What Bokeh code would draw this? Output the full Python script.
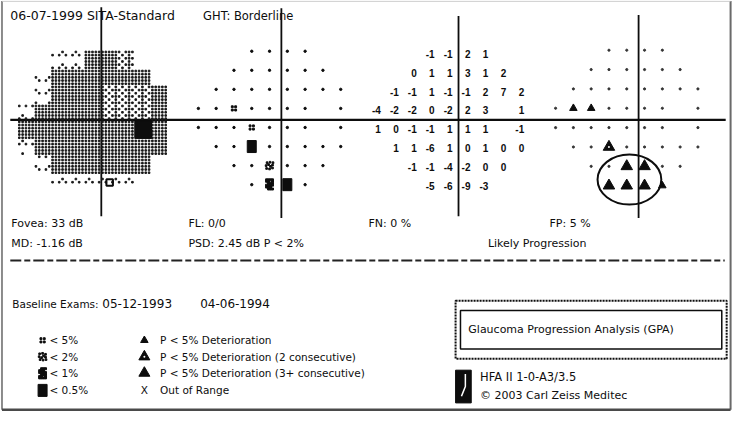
import math
from bokeh.plotting import figure
from bokeh.models import Range1d
from bokeh.core.properties import value
from bokeh.embed import file_html
from bokeh.resources import INLINE

# ------------------------------------------------------------------ data
# 24-2 test grid (degrees), one list of x positions per row
ROW_Y = [21, 15, 9, 3, -3, -9, -15, -21]
ROW_X = {
    21: [-9, -3, 3, 9],
    15: [-15, -9, -3, 3, 9, 15],
    9: [-21, -15, -9, -3, 3, 9, 15, 21],
    3: [-27, -21, -15, -9, -3, 3, 9, 21],
    -3: [-27, -21, -15, -9, -3, 3, 9, 21],
    -9: [-21, -15, -9, -3, 3, 9, 15, 21],
    -15: [-15, -9, -3, 3, 9, 15],
    -21: [-9, -3, 3, 9],
}
# deviation from baseline (dB)
DEVIATION = {
    21: [-1, -1, 2, 1],
    15: [0, 1, 1, 3, 1, 2],
    9: [-1, -1, 1, -1, -1, 2, 7, 2],
    3: [-4, -2, -2, 0, -2, 2, 3, 1],
    -3: [1, 0, -1, -1, 1, 1, 1, -1],
    -9: [1, 1, -6, 1, 0, 1, 0, 0],
    -15: [-1, -1, -4, -2, 0, 0],
    -21: [-5, -6, -9, -3],
}
# pattern deviation probability: 0 normal, 1 <5%, 2 <2%, 3 <1%, 4 <0.5%
PD_PROB = {
    21: [0, 0, 0, 0],
    15: [0, 0, 0, 0, 0, 0],
    9: [0, 0, 0, 0, 0, 0, 0, 0],
    3: [0, 0, 1, 0, 0, 0, 0, 0],
    -3: [0, 0, 0, 1, 0, 0, 0, 0],
    -9: [0, 0, 4, 0, 0, 0, 0, 0],
    -15: [0, 0, 2, 0, 0, 0],
    -21: [0, 3, 4, 0],
}
# progression: 0 none, 1 P<5%, 2 P<5% (2 consecutive), 3 P<5% (3+ consecutive)
CHANGE = {
    21: [0, 0, 0, 0],
    15: [0, 0, 0, 0, 0, 0],
    9: [0, 0, 0, 0, 0, 0, 0, 0],
    3: [0, 1, 1, 0, 0, 0, 0, 0],
    -3: [0, 0, 0, 0, 0, 0, 0, 0],
    -9: [0, 0, 2, 0, 0, 0, 0, 0],
    -15: [0, 0, 3, 3, 0, 0],
    -21: [3, 3, 3, 1],
}
# greyscale tone per location: 0 light, 1 medium, 2 dense, 3 black, 4 dark mark
GRAY_TONE = {
    21: [0, 2, 2, 1],
    15: [2, 2, 2, 2, 2, 2],
    9: [0, 2, 2, 2, 1, 1, 1, 2],
    3: [0, 2, 2, 2, 2, 1, 1, 2],
    -3: [2, 2, 2, 2, 2, 2, 2, 2],
    -9: [2, 2, 2, 2, 2, 2, 2, 2],
    -15: [2, 2, 2, 2, 2, 2],
    -21: [0, 0, 4, 0],
}
GRAY_EXTRA_X = [15, 15, -21, -15, -27, -21, -15]
GRAY_EXTRA_Y = [3, -3, 15, 21, -9, -15, -21]
GRAY_EXTRA_T = [1, 3, 0, 0, 0, 0, 0]

ELLIPSE_DEG = (-2.1, -19.1, 21.5, 15.5)   # centre x, centre y, width, height

HEADER = ["06-07-1999 SITA-Standard", "GHT: Borderline"]
STATS_1 = ["Fovea: 33 dB", "FL: 0/0", "FN: 0 %", "FP: 5 %"]
STATS_2 = ["MD: -1.16 dB", "PSD: 2.45 dB P < 2%", "Likely Progression"]
BASELINE = ["Baseline Exams:", "05-12-1993", "04-06-1994"]
LEGEND_PD = ["< 5%", "< 2%", "< 1%", "< 0.5%"]
LEGEND_CHG = ["P < 5% Deterioration", "P < 5% Deterioration (2 consecutive)",
              "P < 5% Deterioration (3+ consecutive)", "Out of Range"]
GPA_TITLE = "Glaucoma Progression Analysis (GPA)"
DEVICE = ["HFA II 1-0-A3/3.5", "\u00a9 2003 Carl Zeiss Meditec"]

# ------------------------------------------------------------------ layout
W, H = 734, 413
X0, X1, Y0, Y1 = 0, 750, 0, 429          # reference sheet coordinates
INK = "#0d0d0d"
FONT = "DejaVu Sans"
# panel centre (sheet px) and px per degree
PANELS = {
    "gray": (103, 125, 2.85, 3.05),
    "prob": (284, 122, 3.03, 3.3),
    "dev": (468, 124, 3.05, 3.25),
    "chg": (649, 122, 3.03, 3.35),
}

p = figure(width=W, height=H, x_range=Range1d(X0, X1), y_range=Range1d(Y1, Y0),
           output_backend="svg", toolbar_location=None,
           x_axis_location=None, y_axis_location=None, min_border=0,
           background_fill_color="white", border_fill_color="white",
           outline_line_color=None)
p.grid.visible = False
p.extra_x_ranges = {k: Range1d((X0 - xc) / sx, (X1 - xc) / sx) for k, (xc, yc, sx, sy) in PANELS.items()}
p.extra_y_ranges = {k: Range1d((yc - Y1) / sy, (yc - Y0) / sy) for k, (xc, yc, sx, sy) in PANELS.items()}


def flat(table):
    xs, ys, vs = [], [], []
    for y in ROW_Y:
        for x, v in zip(ROW_X[y], table[y]):
            xs.append(x); ys.append(y); vs.append(v)
    return xs, ys, vs


def txt(x, y, s, size, align="left", font=FONT, style="normal", color=INK):
    p.text(x=[x], y=[y], text=[s], text_font=value(font), text_font_size=size,
           text_font_style=style, text_align=align, text_baseline="middle",
           text_color=color)


def cluster(xs, ys, offs, size, rn, sx, sy, color=INK, marker="square"):
    X = [x + ox / sx for x in xs for ox, oy in offs]
    Y = [y + oy / sy for y in ys for ox, oy in offs]
    if X:
        p.scatter(X, Y, marker=marker, size=size, color=color,
                  x_range_name=rn, y_range_name=rn)


def prob_symbols(xs, ys, codes, rn, sx, sy):
    pick = lambda c: ([x for x, k in zip(xs, codes) if k == c], [y for y, k in zip(ys, codes) if k == c])
    x0, y0 = pick(0)
    if x0:
        p.scatter(x0, y0, marker="circle", size=2.4, color=INK, x_range_name=rn, y_range_name=rn)
    x1, y1 = pick(1)
    cluster(x1, y1, [(-1.7, -1.7), (1.7, -1.7), (-1.7, 1.7), (1.7, 1.7)], 1.9, rn, sx, sy)
    x2, y2 = pick(2)
    cluster(x2, y2, [(-3, -3), (0, -3.5), (3, -2.5), (-3.5, 0), (3, 0.5), (-2.5, 3), (0.5, 3.5),
                     (3.5, 3), (1, -0.8), (-1, 1)], 1.7, rn, sx, sy)
    x3, y3 = pick(3)
    cluster(x3, y3, [(a, b) for a in (-3, -1, 1, 3) for b in (-4.5, -2.5, -0.5, 1.5, 3.5, 5)
                     if (a, b) not in ((3, -2.5), (-3, 1.5), (1, 3.5), (-3, -4.5))], 2.0, rn, sx, sy)
    x4, y4 = pick(4)
    if x4:
        p.rect(x4, y4, width=9, height=12, width_units="screen", height_units="screen",
               color=INK, x_range_name=rn, y_range_name=rn)


# ------------------------------------------------------------------ frame & axes
p.line([1.5, 1.5], [0.5, 425], line_color="#8a8a8a", line_width=2)
p.line([746, 746], [0.5, 425], line_color="#6a6a6a", line_width=2)
p.line([1.5, 746], [425, 425], line_color="#4a4a4a", line_width=2.5)
p.line([1.5, 746], [0.8, 0.8], line_color="#c8c8c8", line_width=1)

p.line([10, 741], [124, 124], line_color=INK, line_width=2.2)
for vx, top, bot in [(103, 7, 224), (287, 8, 226), (468, 16, 224), (652, 15, 226)]:
    p.line([vx, vx], [top, bot], line_color=INK, line_width=1.8)

# ------------------------------------------------------------------ grey scale
tone_at = {}
gx, gy, gt = flat(GRAY_TONE)
for x, y, t in zip(gx + GRAY_EXTRA_X, gy + GRAY_EXTRA_Y, gt + GRAY_EXTRA_T):
    tone_at[(x, y)] = t
xc, yc, sx, sy = PANELS["gray"]
pitch_x, pitch_y = 3.4 / sx, 3.3 / sy
dx, dy = [], []
for j in range(int(48 / pitch_y) + 1):
    yd = 24 - (j + 0.5) * pitch_y
    for i in range(int(54 / pitch_x) + 1):
        xd = -30 + (i + 0.5) * pitch_x
        t = tone_at.get((6 * math.floor(xd / 6) + 3, 6 * math.floor(yd / 6) + 3))
        if t is None or t == 3:
            continue
        if t in (0, 4):
            on = (i % 4, j % 4) in {(1, 0), (0, 1), (2, 1)}
        elif t == 1:
            on = (i + j) % 2 == 0 or (i % 4 == 1 and j % 2 == 0)
        else:
            on = True
        if on:
            dx.append(xd); dy.append(yd)
p.scatter(dx, dy, marker="square", size=1.6, color="#1a1a1a", x_range_name="gray", y_range_name="gray")
bx = [k[0] for k, t in tone_at.items() if t == 3]
by = [k[1] for k, t in tone_at.items() if t == 3]
p.rect(bx, by, width=6, height=6, color=INK, x_range_name="gray", y_range_name="gray")
mx = [k[0] for k, t in tone_at.items() if t == 4]
my = [k[1] for k, t in tone_at.items() if t == 4]
p.scatter(mx, my, marker="square", size=6.5, fill_color=None, line_color=INK, line_width=2,
          x_range_name="gray", y_range_name="gray")

# ------------------------------------------------------------------ probability map
xs, ys, codes = flat(PD_PROB)
_, _, sxp, syp = PANELS["prob"]
prob_symbols(xs, ys, codes, "prob", sxp, syp)

# ------------------------------------------------------------------ deviation values
xs, ys, vals = flat(DEVIATION)
p.text(x=xs, y=ys, text=[str(v) for v in vals], x_range_name="dev", y_range_name="dev",
       text_font=value("Liberation Sans"), text_font_style="bold", text_font_size="10px",
       text_align="right", text_baseline="middle", x_offset=3, text_color=INK)

# ------------------------------------------------------------------ progression symbols
xs, ys, codes = flat(CHANGE)
sel = lambda c: ([x for x, k in zip(xs, codes) if k == c], [y for y, k in zip(ys, codes) if k == c])
x0, y0 = sel(0)
p.scatter(x0, y0, marker="circle", size=2.2, color="#333333", x_range_name="chg", y_range_name="chg")
x1, y1 = sel(1)
p.scatter(x1, y1, marker="triangle", size=7.5, color=INK, x_range_name="chg", y_range_name="chg")
x2, y2 = sel(2)
p.scatter(x2, y2, marker="triangle", size=11.5, color=INK, x_range_name="chg", y_range_name="chg")
p.scatter(x2, y2, marker="circle", size=2, color="white", line_width=0, x_range_name="chg", y_range_name="chg")
x3, y3 = sel(3)
p.scatter(x3, y3, marker="triangle", size=11.5, color=INK, x_range_name="chg", y_range_name="chg")
ex, ey, ew, eh = ELLIPSE_DEG
p.ellipse(x=[ex], y=[ey], width=[ew], height=[eh], fill_color=None, line_color=INK,
          line_width=2, x_range_name="chg", y_range_name="chg")

# ------------------------------------------------------------------ texts
txt(10, 16, HEADER[0], "12.5px")
txt(207, 16, HEADER[1], "11.5px")
for x, s in zip([11, 192, 376, 561], STATS_1):
    txt(x, 232, s, "11px")
for x, s in zip([11, 192, 498], STATS_2):
    txt(x, 252, s, "11px")
p.line([10, 740], [270, 270], line_color="#222222", line_width=2, line_dash="11 3 6 3")

txt(12, 315, BASELINE[0], "10.5px")
for x, s in zip([104, 204], BASELINE[1:]):
    txt(x, 315, s, "12px")

LEG_Y = [353, 370, 387, 405]
prob_symbols([43] * 4, LEG_Y, [1, 2, 3, 4], "default", 1, 1)
for y, s in zip(LEG_Y, LEGEND_PD):
    txt(50, y, s, "10.5px")
p.scatter([147], [LEG_Y[0]], marker="triangle", size=7.5, color=INK)
p.scatter([147, 147], LEG_Y[1:3], marker="triangle", size=11, color=INK)
p.scatter([147], [LEG_Y[1]], marker="circle", size=2, color="white", line_width=0)
txt(147, LEG_Y[3], "X", "10.5px", align="center")
for y, s in zip(LEG_Y, LEGEND_CHG):
    txt(163, y, s, "10.5px")

# GPA box
p.quad(left=[465], right=[742], top=[312], bottom=[372], fill_color=None,
       line_color=INK, line_width=2, line_dash="2 1")
p.quad(left=[470], right=[737], top=[322], bottom=[362], fill_color=None,
       line_color=INK, line_width=1.5)
txt(478, 342, GPA_TITLE, "11px")

# device logo + text
p.quad(left=[465], right=[481], top=[384], bottom=[418], color=INK)
p.line([475, 475, 473, 471], [388, 401, 406, 411], line_color="white", line_width=1.5)
txt(490, 391, DEVICE[0], "11.5px")
txt(490, 410, DEVICE[1], "11px")

open("out.html", "w").write(file_html(p, INLINE))
